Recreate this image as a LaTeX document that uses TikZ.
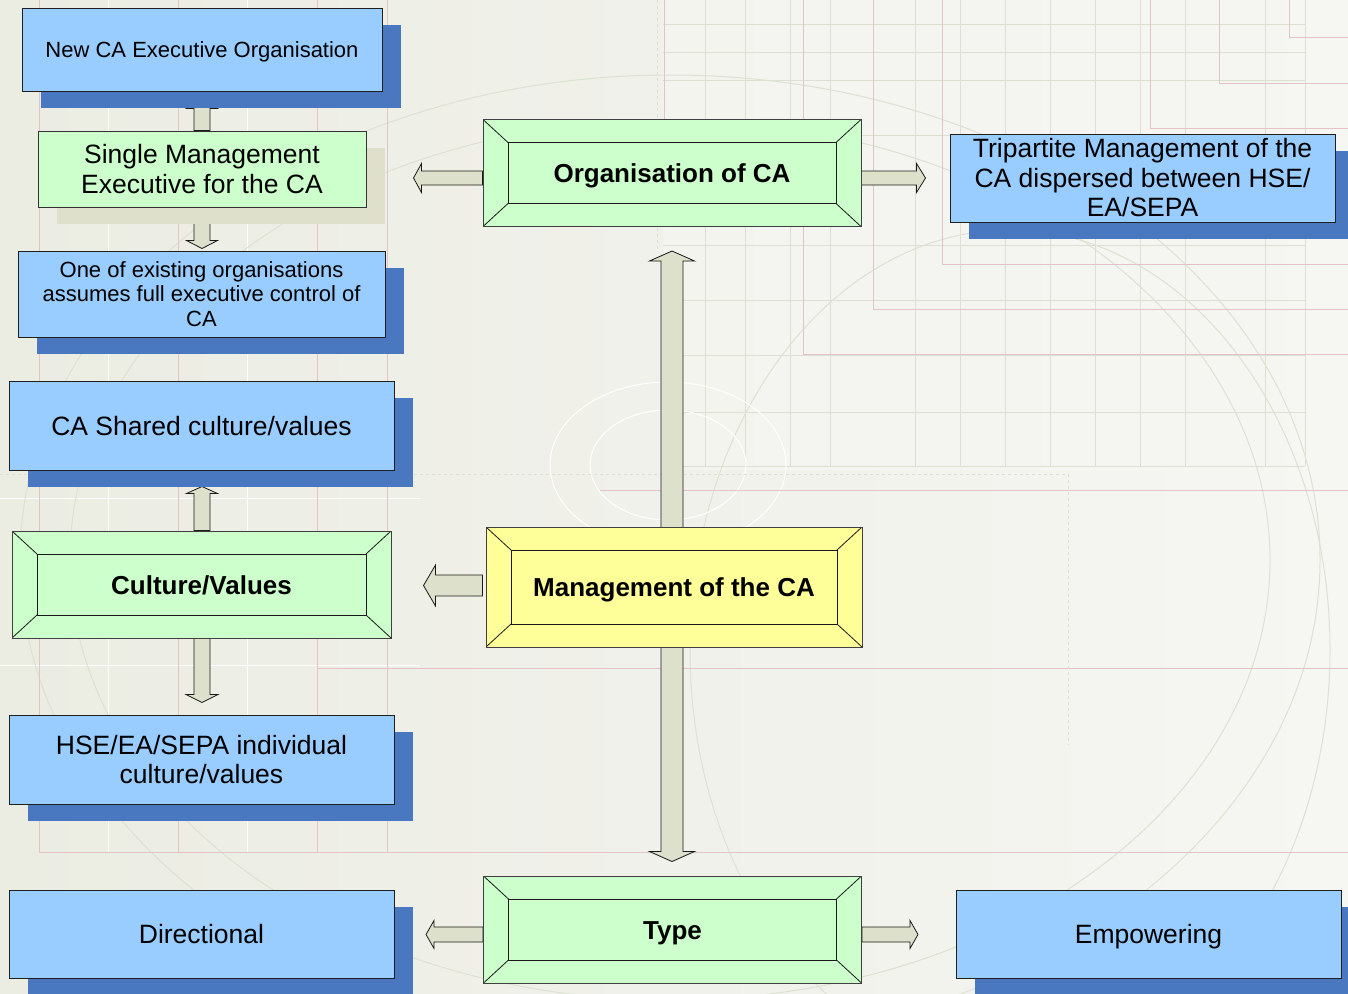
\documentclass[tikz,border=0pt]{standalone}
\usepackage{fontspec}
\setmainfont{Liberation Sans}
\usetikzlibrary{calc,shadows}
\pgfdeclarelayer{bglayer}
\pgfdeclarelayer{arrlayer}
\pgfsetlayers{bglayer,arrlayer,main}
\definecolor{bluefill}{HTML}{99CCFF}
\definecolor{shadowblue}{HTML}{4A78C0}
\definecolor{greenfill}{HTML}{CCFFCC}
\definecolor{yellowfill}{HTML}{FFFF99}
\definecolor{beigeshadow}{HTML}{DEE0CC}
\definecolor{arrowfill}{HTML}{DDE0CA}
\definecolor{bgl}{HTML}{F6F6F3}
\definecolor{bgm}{HTML}{F0F1EA}
\definecolor{bgd}{HTML}{EBECE2}
\definecolor{gridc}{HTML}{DCE0D2}
\definecolor{pinkc}{HTML}{E4C2C8}
\definecolor{arcc}{HTML}{DCE2D2}
\newcommand\varrowblk[6]{% anchor, sign (+1 down), length, shaft half, head half, head length
  \draw[blockarr, shift={(#1)}] (-#4,0) -- (-#4,{#2*(#3-#6)}) -- (-#5,{#2*(#3-#6)}) -- (0,{#2*#3})
    -- (#5,{#2*(#3-#6)}) -- (#4,{#2*(#3-#6)}) -- (#4,0) -- cycle;}
\newcommand\harrowblk[6]{% anchor, sign (+1 right), length, shaft half, head half, head length
  \draw[blockarr, shift={(#1)}] (0,-#4) -- ({#2*(#3-#6)},-#4) -- ({#2*(#3-#6)},-#5) -- ({#2*#3},0)
    -- ({#2*(#3-#6)},#5) -- ({#2*(#3-#6)},#4) -- (0,#4) -- cycle;}
\tikzset{
  blockarr/.style={fill=arrowfill, draw=black!90, line width=0.8pt, line join=miter},
  bggrid/.style={draw=gridc, line width=0.8pt},
  bgpink/.style={draw=pinkc, line width=0.8pt},
  bgwhite/.style={draw=white, line width=1pt},
  boxbase/.style={rectangle, inner sep=0pt, align=center, text=black, line width=1pt},
  oneline/.style={text height=#1, text depth=0pt},
  bluebox/.style={boxbase, draw=black!88, fill=bluefill,
    drop shadow={shadow xshift=19pt, shadow yshift=-17pt, fill=shadowblue, opacity=1}},
  greenbox/.style={boxbase, draw=black!80, fill=greenfill,
    drop shadow={shadow xshift=19pt, shadow yshift=-17pt, fill=beigeshadow, opacity=1}},
  bevelbox/.style={boxbase, draw=black!75, fill=#1, font=\fontsize{26}{30}\selectfont\bfseries,
    oneline=19pt,
    path picture={
      \draw[black!90, line width=0.9pt]
        ($(path picture bounding box.south west)+(25pt,23pt)$) rectangle
        ($(path picture bounding box.north east)+(-25pt,-23pt)$);
      \draw[black!90, line width=0.8pt]
        (path picture bounding box.south west) -- ++(25pt,23pt)
        (path picture bounding box.south east) -- ++(-25pt,23pt)
        (path picture bounding box.north west) -- ++(25pt,-23pt)
        (path picture bounding box.north east) -- ++(-25pt,-23pt);
    }},
  txtsmall/.style={font=\fontsize{22}{24.5}\selectfont},
  txtbig/.style={font=\fontsize{26.5}{29.5}\selectfont},
}
\begin{document}
\begin{tikzpicture}[x=1pt,y=-1pt]
\useasboundingbox (0,0) rectangle (1348,993);
\clip (0,0) rectangle (1348,993);
% ---------- background ----------
\begin{pgfonlayer}{bglayer}
\shade[left color=bgd, right color=bgl] (0,0) rectangle (1348,993);
\fill[bgl, opacity=0.6] (663,0) rectangle (1348,470);
\foreach \gx in {705,745,790,830,915,960,1005,1050,1095,1140,1185,1265,1305}
  \draw[bggrid] (\gx,0) -- (\gx,466);
\foreach \gy in {24,52,80,135,245,300,355,412,466}
  \draw[bggrid] (663,\gy) -- (1305,\gy);
\foreach \gx in {108,247}
  \draw[bgwhite] (\gx,0) -- (\gx,852);
\draw[bgwhite] (0,665) -- (420,665);
\draw[bgwhite] (0,498) -- (420,498);
\draw[arcc, line width=1pt] (670,560) ellipse [x radius=650, y radius=485];
\draw[arcc, line width=1pt] (670,560) ellipse [x radius=600, y radius=440];
\draw[arcc, line width=1pt] (1010,650) ellipse [x radius=320, y radius=420];
\draw[white, line width=1pt] (668,465) ellipse [x radius=118, y radius=83];
\draw[white, line width=1pt] (668,465) ellipse [x radius=78, y radius=55];
\foreach \gx in {39,178,317,387}
  \draw[bgpink] (\gx,0) -- (\gx,852);
\draw[bgpink] (39,852) -- (1348,852);
\draw[bgpink] (664,0) -- (664,120);
\foreach \px/\py in {1289/37,1219/83,1150/128,942/264,873/309,803/354}
  \draw[bgpink] (\px,0) -- (\px,\py) -- (1348,\py);
\draw[bgpink] (600,490) -- (1348,490);
\draw[bgpink] (318,668) -- (1348,668);
\draw[gridc, dashed, line width=1pt] (0,474) -- (1068,474) -- (1068,745);
\draw[gridc, dashed, line width=1pt] (657,0) -- (657,250);
\end{pgfonlayer}
% ---------- boxes ----------
\node[bluebox, txtsmall, oneline=16pt, minimum width=360pt, minimum height=83pt] (A) at (202,49.5)
  {New CA Executive Organisation};
\node[greenbox, txtbig, minimum width=328pt, minimum height=76pt] (B) at (202,169)
  {Single Management\\Executive for the CA};
\node[bluebox, txtsmall, minimum width=367pt, minimum height=86pt] (C) at (201.5,294)
  {One of existing organisations\\assumes full executive control of\\CA};
\node[bluebox, txtbig, oneline=19pt, minimum width=385pt, minimum height=89pt] (D) at (201.5,425.5)
  {CA Shared culture/values};
\node[bevelbox=greenfill, minimum width=379pt, minimum height=107pt] (E) at (201.5,584.5)
  {Culture/Values};
\node[bluebox, txtbig, minimum width=385pt, minimum height=89pt] (F) at (201.5,759.5)
  {HSE/EA/SEPA individual\\culture/values};
\node[bluebox, txtbig, oneline=19pt, minimum width=385pt, minimum height=88pt] (G) at (201.5,934)
  {Directional};
\node[bevelbox=greenfill, minimum width=378pt, minimum height=107pt] (H) at (672.5,929.5)
  {Type};
\node[bluebox, txtbig, oneline=19pt, minimum width=385pt, minimum height=88pt] (I) at (1148.5,934)
  {Empowering};
\node[bevelbox=greenfill, minimum width=378pt, minimum height=107pt] (J) at (672,173)
  {Organisation of CA};
\node[bluebox, txtbig, minimum width=385pt, minimum height=88pt] (K) at (1142.5,178)
  {Tripartite Management of the\\CA dispersed between HSE/\\EA/SEPA};
\node[bevelbox=yellowfill, minimum width=376pt, minimum height=120pt] (L) at (674,587)
  {Management of the CA};
% ---------- connectors (under the boxes) ----------
\begin{pgfonlayer}{arrlayer}
\varrowblk{B.north}{-1}{30}{8}{15.5}{8}
\varrowblk{B.south}{1}{41}{8}{15.5}{8}
\varrowblk{$(E.north)+(0.5,0)$}{-1}{44}{8}{15.5}{7}
\varrowblk{$(E.south)+(0.5,0)$}{1}{64}{8}{16}{8}
\harrowblk{$(J.west)+(0,5)$}{-1}{69}{7}{14.5}{8}
\harrowblk{$(J.east)+(0,5)$}{1}{64}{7}{14.5}{9}
\harrowblk{$(L.west)+(-3,-1.5)$}{-1}{59}{10.5}{20.5}{12}
\harrowblk{$(H.west)+(0,5)$}{-1}{57}{7.5}{14}{8}
\harrowblk{$(H.east)+(0,5)$}{1}{56}{7.5}{14}{8}
\draw[blockarr] let \p1=($(J.south)+(0,24)$), \p2=($(H.north)+(0,-14)$) in
  (\x1,\y1) -- ({\x1+22.5pt},{\y1-10pt}) -- ({\x1+11pt},{\y1-10pt}) -- ({\x1+11pt},{\y2+10pt})
  -- ({\x1+22.5pt},{\y2+10pt}) -- (\x1,\y2) -- ({\x1-22.5pt},{\y2+10pt}) -- ({\x1-11pt},{\y2+10pt})
  -- ({\x1-11pt},{\y1-10pt}) -- ({\x1-22.5pt},{\y1-10pt}) -- cycle;
\end{pgfonlayer}
\end{tikzpicture}
\end{document}
